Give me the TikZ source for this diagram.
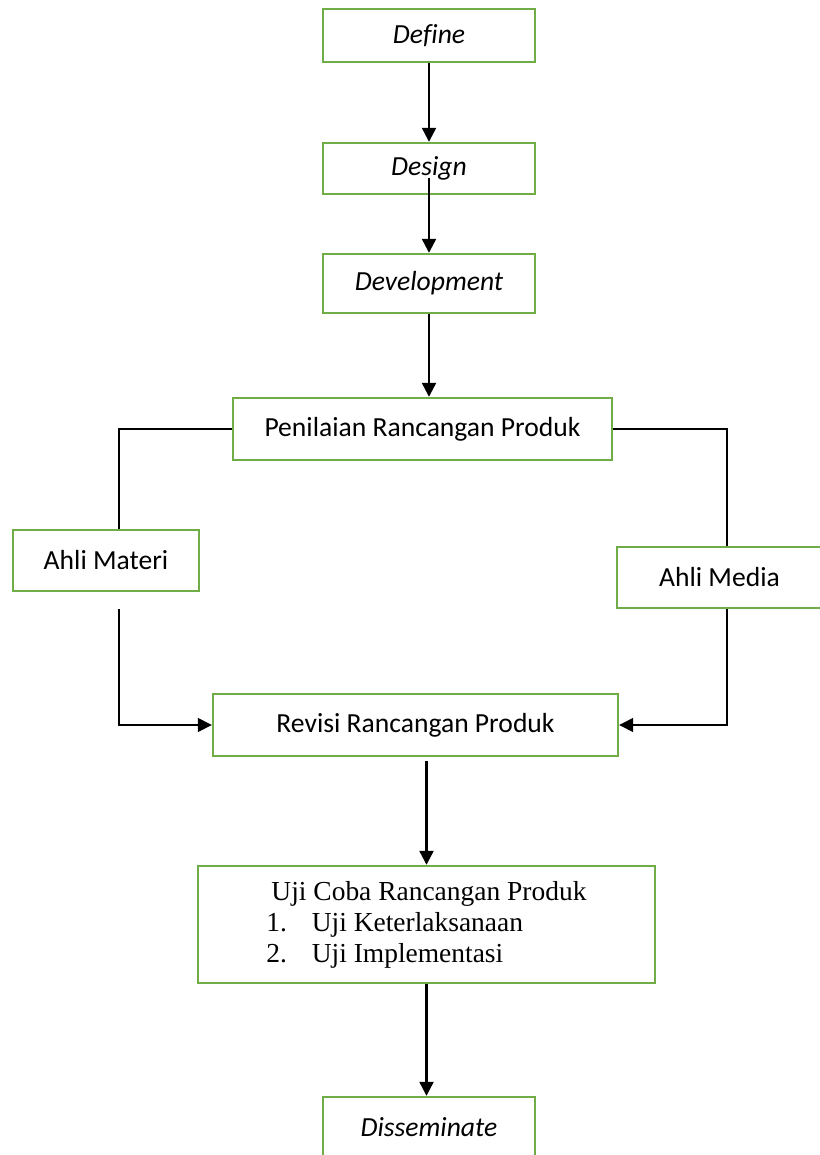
\documentclass[tikz,border=0pt]{standalone}
\usepackage{fontspec}
\setmainfont{Carlito}[Ligatures=NoCommon]
\newfontfamily\timesfont{Liberation Serif}
\usepackage{xcolor}
\usetikzlibrary{positioning,arrows.meta}
\definecolor{hijau}{HTML}{70AD47}

\begin{document}
\begin{tikzpicture}[x=0.75pt, y=-0.75pt,
		kotak/.style={draw=hijau, line width=1.8pt, rectangle, fill=white, inner sep=2pt, font=\fontsize{20.7}{24}\selectfont},
		panah/.style={line width=1.7pt, -{Triangle[length=10.5pt, width=10.5pt]}},
		garis/.style={line width=1.1pt}]
		\useasboundingbox (0,0) rectangle (819,1155);
		
		\node[kotak, minimum width=159pt, minimum height=39.75pt] (define) at (429,35.5) {\itshape Define};
		\node[kotak, minimum width=159pt, minimum height=38.25pt] (design) at (429,168.5) {\itshape Design};
		\node[kotak, minimum width=159pt, minimum height=44.25pt] (develop) at (429,283.5) {\itshape Development};
		\node[kotak, minimum width=284.25pt, minimum height=46.5pt] (penilaian) at (422.5,429) {Penilaian Rancangan Produk};
		\node[kotak, minimum width=139.5pt, minimum height=45.75pt] (materi) at (106,560.5) {Ahli Materi};
		\node[kotak, minimum width=153.75pt, minimum height=45.75pt] (media) at (719.5,577.5) {Ahli Media};
		\node[kotak, minimum width=303.75pt, minimum height=46.5pt] (revisi) at (415.5,725) {Revisi Rancangan Produk};
		\node[kotak, minimum width=342.75pt, minimum height=87.75pt, align=left, font=\timesfont\fontsize{20.6}{23.25}\selectfont] (ujicoba) at (426.5,924.5)
			{\hspace*{3.75pt}Uji Coba Rancangan Produk\\\makebox[34pt][l]{1.}Uji Keterlaksanaan\\\makebox[34pt][l]{2.}Uji Implementasi};
		\node[kotak, minimum width=159pt, minimum height=45.75pt] (dissem) at (429,1127.5) {\itshape Disseminate};
		
		\draw[panah] (define.south) -- (design.north);
		\draw[panah] ([yshift=-7pt]design.center) -- (develop.north);
		\draw[panah] (develop.south) -- (develop.south |- penilaian.north);
		\draw[garis] (penilaian.west) -| ([xshift=9.75pt]materi.north);
		\draw[garis] (penilaian.east) -| ([xshift=5.6pt]media.north);
		\draw[panah, line width=1.1pt] ([xshift=9.75pt, yshift=-12.75pt]materi.south) |- (revisi.west);
		\draw[panah, line width=1.1pt] ([xshift=5.6pt]media.south) |- (revisi.east);
		\draw[panah, shorten <=3pt] (revisi.south -| ujicoba.north) -- (ujicoba.north);
		\draw[panah] (ujicoba.south) -- (ujicoba.south |- dissem.north);
	\end{tikzpicture}
\end{document}
